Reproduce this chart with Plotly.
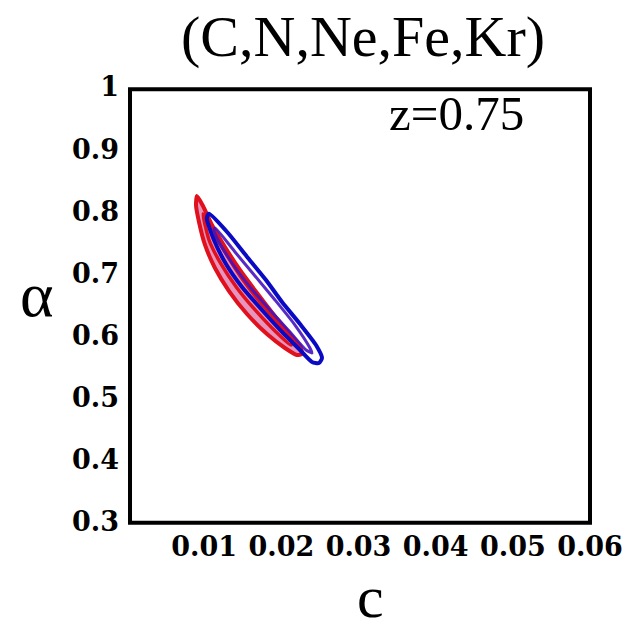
import plotly.graph_objects as go

# Axis ticks
c_ticks = [0.01, 0.02, 0.03, 0.04, 0.05, 0.06]
c_tick_text = ["0.01", "0.02", "0.03", "0.04", "0.05", "0.06"]
alpha_ticks = [0.3, 0.4, 0.5, 0.6, 0.7, 0.8, 0.9, 1.0]
alpha_tick_text = ["0.3", "0.4", "0.5", "0.6", "0.7", "0.8", "0.9", "1"]

# Confidence contours in the (c, alpha) plane, closed loops
red_outer_c = [0.00907, 0.00894, 0.00933, 0.01011, 0.01140, 0.01322, 0.01555, 0.01814,
               0.02047, 0.02203, 0.02268, 0.02242, 0.02112, 0.01905, 0.01685, 0.01464,
               0.01270, 0.01101, 0.00985, 0.00907]
red_outer_a = [0.8246, 0.8101, 0.7828, 0.7458, 0.7088, 0.6717, 0.6347, 0.6025,
               0.5800, 0.5687, 0.5704, 0.5832, 0.6025, 0.6331, 0.6685, 0.7055,
               0.7425, 0.7780, 0.8085, 0.8246]

red_inner_c = [0.00985, 0.01063, 0.01218, 0.01425, 0.01672, 0.01931, 0.02125,
               0.02138, 0.01957, 0.01723, 0.01503, 0.01309, 0.01127, 0.01024, 0.00985]
red_inner_a = [0.7957, 0.7538, 0.7152, 0.6766, 0.6396, 0.6058, 0.5848,
               0.5929, 0.6202, 0.6540, 0.6894, 0.7265, 0.7635, 0.7892, 0.7957]

blue_outer_c = [0.01063, 0.01309, 0.01568, 0.01801, 0.02009, 0.02242, 0.02449, 0.02527,
                0.02488, 0.02397, 0.02242, 0.02009, 0.01749, 0.01490, 0.01283, 0.01127,
                0.01037, 0.01040, 0.01063]
blue_outer_a = [0.7960, 0.7651, 0.7248, 0.6894, 0.6540, 0.6186, 0.5848, 0.5639,
                0.5559, 0.5575, 0.5768, 0.6058, 0.6412, 0.6782, 0.7152, 0.7538,
                0.7860, 0.7920, 0.7960]

blue_inner_c = [0.01140, 0.01400, 0.01659, 0.01918, 0.02177, 0.02371, 0.02397,
                0.02320, 0.02112, 0.01853, 0.01594, 0.01361, 0.01179, 0.01127, 0.01140]
blue_inner_a = [0.7731, 0.7345, 0.6959, 0.6573, 0.6170, 0.5800, 0.5720,
                0.5768, 0.6058, 0.6412, 0.6782, 0.7168, 0.7538, 0.7699, 0.7731]

RED = "#e0101c"
BLUE = "#0a0ac4"

fig = go.Figure()
fig.add_trace(go.Scatter(x=red_outer_c, y=red_outer_a, mode="lines",
                         line=dict(color=RED, width=4, shape="spline", smoothing=0.6),
                         fill="toself", fillcolor="rgba(200,20,110,0.45)",
                         hoverinfo="skip"))
fig.add_trace(go.Scatter(x=red_inner_c, y=red_inner_a, mode="lines",
                         line=dict(color=RED, width=3.5, shape="spline", smoothing=0.6),
                         hoverinfo="skip"))
fig.add_trace(go.Scatter(x=blue_outer_c, y=blue_outer_a, mode="lines",
                         line=dict(color=BLUE, width=4, shape="spline", smoothing=0.6),
                         hoverinfo="skip"))
fig.add_trace(go.Scatter(x=blue_inner_c, y=blue_inner_a, mode="lines",
                         line=dict(color="rgba(70,20,190,0.9)", width=3,
                                   shape="spline", smoothing=0.6),
                         hoverinfo="skip"))

tick_font = dict(family="DejaVu Serif", size=27, color="black", weight="bold")

fig.update_layout(
    width=628, height=639,
    margin=dict(l=127, r=38, t=87, b=117, autoexpand=False),
    paper_bgcolor="white", plot_bgcolor="white",
    showlegend=False,
    xaxis=dict(range=[0, 0.06], tickvals=c_ticks, ticktext=c_tick_text,
               showgrid=False, zeroline=False, ticks="", tickfont=tick_font,
               ticklabelstandoff=6, automargin=False, fixedrange=True),
    yaxis=dict(range=[0.3, 1.0], tickvals=alpha_ticks, ticktext=alpha_tick_text,
               showgrid=False, zeroline=False, ticks="", tickfont=tick_font,
               ticklabelstandoff=7, automargin=False, fixedrange=True),
    shapes=[dict(type="rect", xref="paper", yref="paper",
                 x0=0.0065, x1=1.0, y0=-0.002, y1=0.995,
                 line=dict(color="black", width=4), layer="above")],
)

serif = "Liberation Serif"
fig.add_annotation(text="(C,N,Ne,Fe,Kr)", xref="paper", yref="paper",
                   x=0.5097, y=1.117, xanchor="center", yanchor="middle",
                   showarrow=False, font=dict(family=serif, size=58, color="black"))
fig.add_annotation(text="z=0.75", xref="paper", yref="paper",
                   x=0.7106, y=0.938, xanchor="center", yanchor="middle",
                   showarrow=False, font=dict(family=serif, size=49, color="black"))
fig.add_annotation(text="α", xref="paper", yref="paper",
                   x=-0.1944, y=0.524, xanchor="center", yanchor="middle",
                   showarrow=False, font=dict(family=serif, size=64, color="black"))
fig.add_annotation(text="c", xref="paper", yref="paper",
                   x=0.525, y=-0.1724, xanchor="center", yanchor="middle",
                   showarrow=False, font=dict(family=serif, size=60, color="black"))

fig.write_html("out.html")
